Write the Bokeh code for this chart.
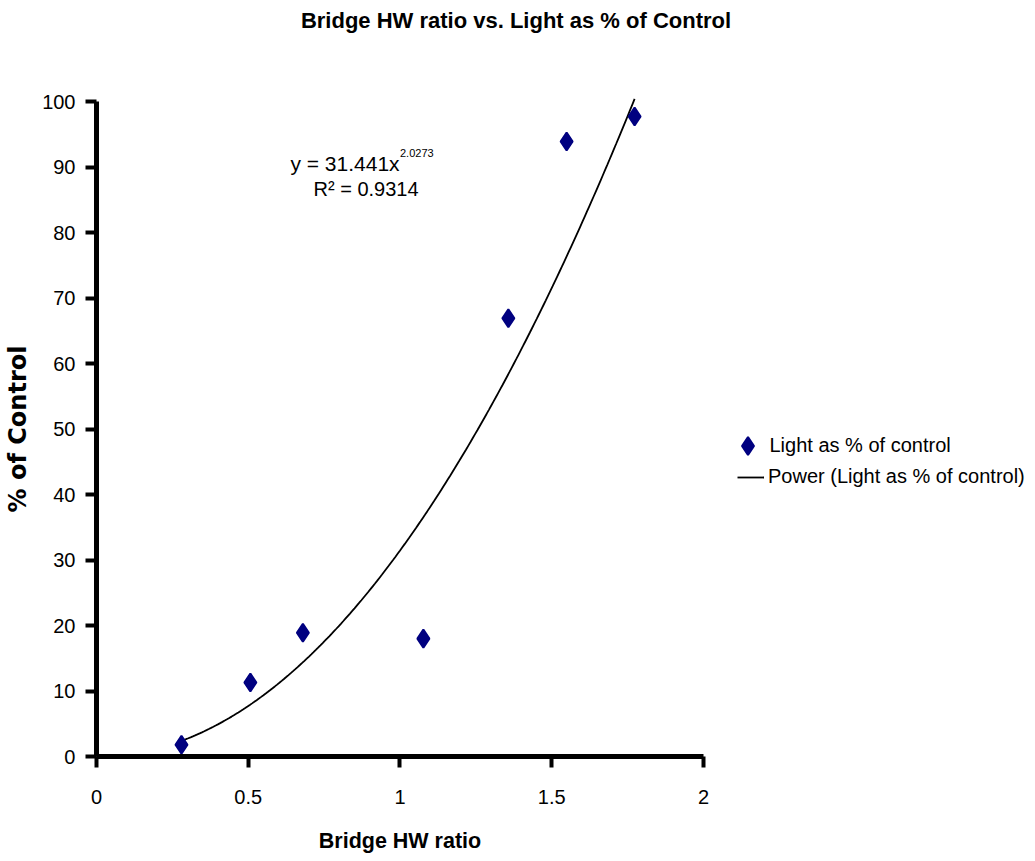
import numpy as np
from bokeh.plotting import figure
from bokeh.models import Range1d, Label, Legend, LegendItem, FixedTicker, LinearAxis
from bokeh.embed import file_html
from bokeh.resources import INLINE

# Measured bridge height/width ratios and transmitted light (% of control)
hw_ratio = [0.28, 0.507, 0.68, 1.077, 1.357, 1.549, 1.773]
light_pct = [1.8, 11.3, 18.9, 18.0, 66.9, 93.9, 97.7]

# Power-law trendline y = a * x^b
fit_coef = 31.441
fit_exp = 2.0273
r_squared = 0.9314

x_ticks = [0, 0.5, 1, 1.5, 2]
y_ticks = [0, 10, 20, 30, 40, 50, 60, 70, 80, 90, 100]

NAVY = "#000080"
FONT = "Liberation Sans"
W, H = 1035, 861

# The frame fills the whole canvas; the axes sit at fixed data locations
# inside it, so the ranges leave room around the 0-2 / 0-100 box.
p = figure(
    width=W, height=H,
    x_range=Range1d(-0.3163, 3.0939), y_range=Range1d(-16.03, 115.42),
    x_axis_location=None, y_axis_location=None,
    output_backend="svg", toolbar_location=None,
    min_border=0,
)
p.outline_line_color = None
p.grid.visible = False
p.background_fill_color = "white"
p.border_fill_color = "white"

xaxis = LinearAxis(fixed_location=0, bounds=(0, 2), ticker=FixedTicker(ticks=x_ticks))
yaxis = LinearAxis(fixed_location=0, bounds=(0, 100), ticker=FixedTicker(ticks=y_ticks))
p.add_layout(xaxis, "below")
p.add_layout(yaxis, "left")

for ax in (xaxis, yaxis):
    ax.axis_line_width = 5
    ax.axis_line_color = "black"
    ax.major_tick_line_width = 4
    ax.major_tick_line_color = "black"
    ax.major_tick_out = 11
    ax.major_tick_in = 0
    ax.minor_tick_line_color = None
    ax.major_label_text_font = FONT
    ax.major_label_text_font_size = "20px"
    ax.major_label_text_color = "black"
    ax.axis_label_text_font_style = "bold"
    ax.axis_label_text_color = "black"

xaxis.major_label_overrides = {0: "0", 0.5: "0.5", 1: "1", 1.5: "1.5", 2: "2"}
xaxis.major_label_standoff = 22
yaxis.major_label_standoff = 10

xaxis.axis_label = "Bridge HW ratio"
xaxis.axis_label_text_font = FONT
xaxis.axis_label_text_font_size = "21.5px"
xaxis.axis_label_standoff = 22

yaxis.axis_label = "% of Control"
yaxis.axis_label_text_font = "DejaVu Sans"
yaxis.axis_label_text_font_size = "24px"
yaxis.axis_label_standoff = 7

# Trendline across the observed x span
fit_x = np.linspace(min(hw_ratio), max(hw_ratio), 200)
fit_y = fit_coef * fit_x ** fit_exp
trend = p.line(fit_x, fit_y, line_color="black", line_width=1.8)

pts = p.scatter(hw_ratio, light_pct, marker="diamond", size=18,
                fill_color=NAVY, line_color=NAVY, line_width=2)

# Title, centred over the whole canvas
p.add_layout(Label(x=W / 2 - 2, y=H - 20, x_units="screen", y_units="screen",
                   text="Bridge HW ratio vs. Light as % of Control",
                   text_font=FONT, text_font_style="bold",
                   text_font_size="22px", text_align="center",
                   text_baseline="middle", text_color="black"))

# Trendline equation and R²
eq_style = dict(text_font=FONT, text_color="black", text_align="left",
                text_baseline="middle")
p.add_layout(Label(x=0.639, y=90.5, text=f"y = {fit_coef}x",
                   text_font_size="21px", **eq_style))
p.add_layout(Label(x=1.0, y=92.2, text=f"{fit_exp}",
                   text_font_size="11px", **eq_style))
p.add_layout(Label(x=0.715, y=86.7, text=f"R\u00b2 = {r_squared}",
                   text_font_size="20px", **eq_style))

# Legend: two stacked entries to the right of the axes box
legend_common = dict(border_line_color=None, background_fill_alpha=0,
                     padding=0, margin=0, spacing=0,
                     label_text_font=FONT, label_text_font_size="20px",
                     label_text_color="black")
leg_pts = Legend(items=[LegendItem(label="Light as % of control", renderers=[pts])],
                 location=(724.5, H - 467.5), glyph_width=45, glyph_height=45,
                 label_height=45, label_standoff=0, **legend_common)
leg_fit = Legend(items=[LegendItem(label="Power (Light as % of control)", renderers=[trend])],
                 location=(737, H - 488), glyph_width=27, glyph_height=20,
                 label_height=20, label_standoff=4, **legend_common)
p.add_layout(leg_pts)
p.add_layout(leg_fit)

open("out.html", "w").write(file_html(p, INLINE))
